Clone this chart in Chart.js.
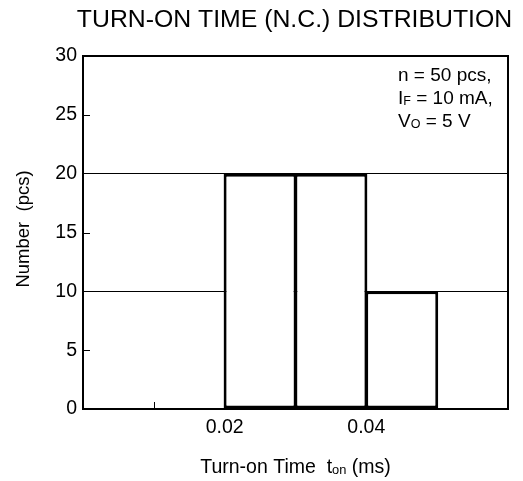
<!DOCTYPE html>
<html>
<head>
<meta charset="utf-8">
<script src="https://cdn.jsdelivr.net/npm/chart.js@4"></script>
<style>
  html, body { margin: 0; padding: 0; background: #fff; }
  #wrap { position: relative; width: 523px; height: 481px; }
</style>
</head>
<body>
<div id="wrap"><canvas id="hist"></canvas></div>
<script>
// histogram bins (ms) and counts
var binCenters = [0.025, 0.035, 0.045];
var binCounts = [20, 20, 10];
var xLabels = [0.02, 0.04];
var yGridAt = [10, 20];
var yTickMarks = [5, 15, 25];
var xTickMarks = [0.01];

var titleText = 'TURN-ON TIME (N.C.) DISTRIBUTION';
var yTitle = 'Number  (pcs)';
var noteLines = [
  [['n = 50 pcs,', 0]],
  [['I', 0], ['F', 1], [' = 10 mA,', 0]],
  [['V', 0], ['O', 1], [' = 5 V', 0]]
];

var FONT = '"Liberation Sans", Arial, sans-serif';

// draws pieces of text, second item 1 = subscript
function drawRuns(ctx, runs, x, y, size, align) {
  var total = 0;
  runs.forEach(function (r) {
    ctx.font = (r[1] ? size * 0.66 : size) + 'px ' + FONT;
    total += ctx.measureText(r[0]).width;
  });
  var cx = align === 'center' ? x - total / 2 : x;
  ctx.textAlign = 'left';
  ctx.textBaseline = 'alphabetic';
  runs.forEach(function (r) {
    ctx.font = (r[1] ? size * 0.66 : size) + 'px ' + FONT;
    ctx.fillText(r[0], cx, y + (r[1] ? 1 : 0));
    cx += ctx.measureText(r[0]).width;
  });
}

var extras = {
  id: 'extras',
  afterDraw: function (chart) {
    var ctx = chart.ctx;
    var a = chart.chartArea;
    var xs = chart.scales.x, ys = chart.scales.y;
    ctx.save();
    ctx.strokeStyle = '#000';
    ctx.fillStyle = '#000';

    // small inward ticks
    ctx.lineWidth = 1;
    ctx.beginPath();
    yTickMarks.forEach(function (v) {
      var py = Math.round(ys.getPixelForValue(v)) + 0.5;
      ctx.moveTo(a.left, py); ctx.lineTo(a.left + 7, py);
    });
    xTickMarks.forEach(function (v) {
      var px = Math.round(xs.getPixelForValue(v)) + 0.5;
      ctx.moveTo(px, a.bottom); ctx.lineTo(px, a.bottom - 7);
    });
    ctx.stroke();

    // frame
    ctx.lineWidth = 2;
    ctx.strokeRect(a.left, a.top, a.right - a.left, a.bottom - a.top);

    // title
    ctx.font = '24.8px ' + FONT;
    ctx.textAlign = 'center';
    ctx.textBaseline = 'middle';
    ctx.fillText(titleText, (a.left + a.right) / 2 - 1, 20);

    // y title
    ctx.save();
    ctx.translate(24, 229);
    ctx.rotate(-Math.PI / 2);
    ctx.font = '18.5px ' + FONT;
    ctx.fillText(yTitle, 0, 0);
    ctx.restore();

    // x title
    drawRuns(ctx, [['Turn-on Time  t', 0], ['on', 1], [' (ms)', 0]],
      (a.left + a.right) / 2, 473, 19.5, 'center');

    // conditions
    noteLines.forEach(function (line, i) {
      drawRuns(ctx, line, 398, 81 + i * 23, 19, 'left');
    });
    ctx.restore();
  }
};

new Chart(document.getElementById('hist'), {
  type: 'bar',
  data: {
    datasets: [{
      data: binCenters.map(function (c, i) { return { x: c, y: binCounts[i] }; }),
      backgroundColor: '#fff',
      borderColor: '#000',
      borderWidth: 3,
      borderSkipped: false,
      barPercentage: 1.03,
      categoryPercentage: 1
    }]
  },
  options: {
    responsive: true,
    maintainAspectRatio: false,
    animation: false,
    layout: { padding: { left: 0, top: 56, right: 15, bottom: 0 } },
    plugins: { legend: { display: false }, tooltip: { enabled: false } },
    scales: {
      x: {
        type: 'linear',
        offset: false,
        min: 0, max: 0.06,
        border: { display: false },
        grid: { display: false, drawTicks: false },
        afterFit: function (s) { s.height = 72; },
        afterBuildTicks: function (s) {
          s.ticks = xLabels.map(function (v) { return { value: v }; });
        },
        ticks: {
          padding: 7,
          color: '#000',
          font: { family: FONT, size: 19.5 },
          maxRotation: 0,
          callback: function (v) { return v.toFixed(2); }
        }
      },
      y: {
        min: 0, max: 30,
        border: { display: false },
        grid: {
          drawTicks: false,
          lineWidth: 1,
          color: function (c) {
            return c.tick && yGridAt.indexOf(c.tick.value) >= 0 ? '#000' : 'rgba(0,0,0,0)';
          }
        },
        afterFit: function (s) { s.width = 83; },
        ticks: {
          stepSize: 5,
          padding: 6,
          color: '#000',
          font: { family: FONT, size: 19.5 }
        }
      }
    }
  },
  plugins: [extras]
});
</script>
</body>
</html>
